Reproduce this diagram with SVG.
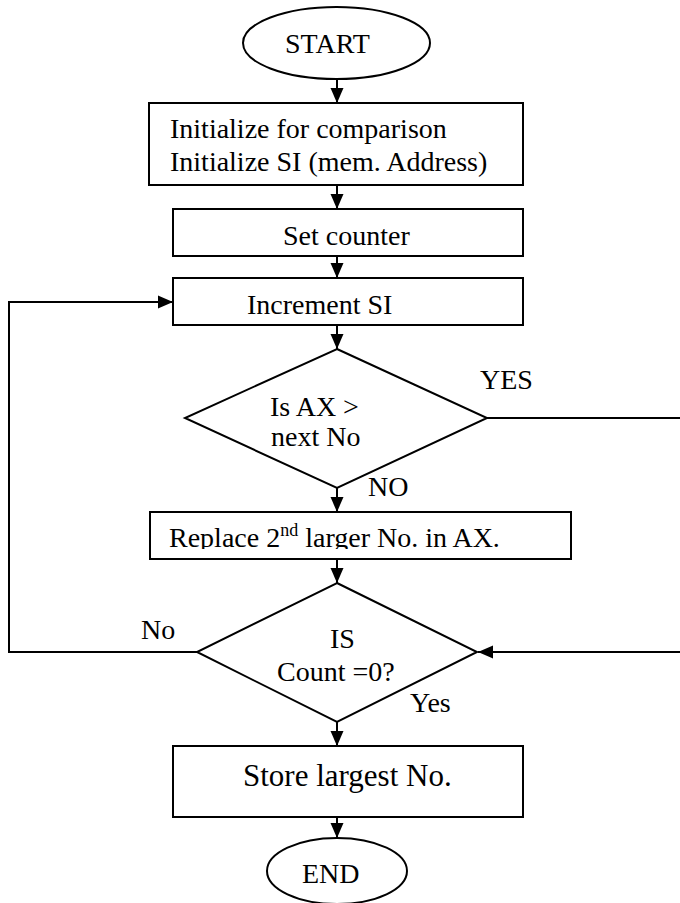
<svg xmlns="http://www.w3.org/2000/svg" width="680" height="903" viewBox="0 0 680 903">
<style>
  .shape { fill: #fff; stroke: #000; stroke-width: 2; }
  .conn { fill: none; stroke: #000; stroke-width: 2; }
  text { font-family: "Liberation Serif", "Times New Roman", serif; font-size: 28px; fill: #000; }
</style>
<defs>
  <marker id="arrow" markerUnits="userSpaceOnUse" markerWidth="16" markerHeight="14" refX="15" refY="7" orient="auto">
    <path d="M0,0.5 L15,7 L0,13.5 Z" fill="#000"/>
  </marker>
  <clipPath id="clipReplace"><rect x="150" y="512" width="421" height="37"/></clipPath>
</defs>
<rect width="680" height="903" fill="#fff"/>

<g id="connectors">
  <line class="conn" x1="337" y1="79" x2="337" y2="103" marker-end="url(#arrow)"/>
  <line class="conn" x1="337" y1="185" x2="337" y2="209" marker-end="url(#arrow)"/>
  <line class="conn" x1="337" y1="256" x2="337" y2="278" marker-end="url(#arrow)"/>
  <line class="conn" x1="337" y1="325" x2="337" y2="349" marker-end="url(#arrow)"/>
  <line class="conn" x1="337" y1="488" x2="337" y2="512" marker-end="url(#arrow)"/>
  <line class="conn" x1="337" y1="559" x2="337" y2="583" marker-end="url(#arrow)"/>
  <line class="conn" x1="337" y1="722" x2="337" y2="746" marker-end="url(#arrow)"/>
  <line class="conn" x1="337" y1="817" x2="337" y2="838" marker-end="url(#arrow)"/>
  <path class="conn" d="M197,652 H9 V302 H173" marker-end="url(#arrow)"/>
  <path class="conn" d="M487,418 H684 V652 H478" marker-end="url(#arrow)"/>
  <text x="480" y="389">YES</text>
  <text x="368" y="496">NO</text>
  <text x="141" y="639">No</text>
  <text x="410" y="712">Yes</text>
</g>

<g id="start">
  <ellipse class="shape" cx="336.5" cy="43" rx="93.5" ry="36"/>
  <text x="285" y="53">START</text>
</g>

<g id="init">
  <rect class="shape" x="149" y="103" width="374" height="82"/>
  <text x="170" y="138">Initialize for comparison</text>
  <text x="170" y="171">Initialize SI (mem. Address)</text>
</g>

<g id="setcounter">
  <rect class="shape" x="173" y="209" width="350" height="47"/>
  <text x="283" y="245">Set counter</text>
</g>

<g id="increment">
  <rect class="shape" x="173" y="278" width="350" height="47"/>
  <text x="247" y="314">Increment SI</text>
</g>

<g id="compare">
  <polygon class="shape" points="337,349 487,418 337,488 185,418"/>
  <text x="270" y="416">Is AX &gt;</text>
  <text x="271" y="446">next No</text>
</g>

<g id="replace">
  <rect class="shape" x="150" y="512" width="421" height="47"/>
  <text x="169" y="547" clip-path="url(#clipReplace)">Replace 2<tspan font-size="18" dy="-11">nd</tspan><tspan dy="11"> larger No. in AX.</tspan></text>
</g>

<g id="count">
  <polygon class="shape" points="337,583 477,652 337,722 197,652"/>
  <text x="330" y="648">IS</text>
  <text x="277" y="681">Count =0?</text>
</g>

<g id="store">
  <rect class="shape" x="173" y="746" width="350" height="71"/>
  <text x="243" y="786" style="font-size:31px">Store largest No.</text>
</g>

<g id="end">
  <ellipse class="shape" cx="337" cy="871" rx="70" ry="33"/>
  <text x="302" y="883">END</text>
</g>
</svg>
